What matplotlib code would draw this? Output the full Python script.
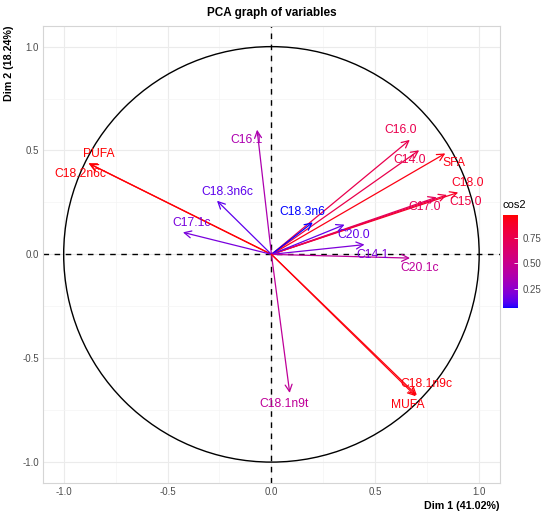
import matplotlib
matplotlib.use("Agg")
import matplotlib.pyplot as plt
import numpy as np
from matplotlib.colors import ListedColormap, Normalize
from matplotlib.patches import Circle

plt.rcParams['font.family'] = ['Liberation Sans', 'DejaVu Sans']
plt.rcParams['axes.unicode_minus'] = False

# PCA variable coordinates (Dim 1, Dim 2)
names = ['PUFA', 'C18.2n6c', 'C16.1', 'C18.3n6c', 'C17.1c', 'C16.0', 'C14.0',
         'SFA', 'C18.0', 'C15.0', 'C17.0', 'C18.3n6', 'C20.0', 'C14.1',
         'C20.1c', 'C18.1n9t', 'C18.1n9c', 'MUFA']
dim1 = [-0.881, -0.875, -0.069, -0.262, -0.426, 0.666, 0.711,
        0.837, 0.899, 0.845, 0.795, 0.199, 0.352, 0.448,
        0.667, 0.088, 0.700, 0.695]
dim2 = [0.439, 0.435, 0.600, 0.258, 0.106, 0.551, 0.501,
        0.486, 0.298, 0.286, 0.275, 0.154, 0.143, 0.047,
        -0.018, -0.667, -0.678, -0.683]
dim1_pct = 41.02
dim2_pct = 18.24
cbar_ticks = [0.25, 0.50, 0.75]

# label offsets from arrow tip, in pixels (repel-like placement)
label_off = {
    'PUFA': (10, 9), 'C18.2n6c': (-9, -10), 'C16.1': (-11, -10),
    'C18.3n6c': (10, 9), 'C17.1c': (9, 9), 'C16.0': (-9, 10),
    'C14.0': (-10, -10), 'SFA': (9, -10), 'C18.0': (9, 9),
    'C15.0': (19, -7), 'C17.0': (-12, -10), 'C18.3n6': (-10, 10),
    'C20.0': (9, -10), 'C14.1': (8, -10), 'C20.1c': (10, -10),
    'C18.1n9t': (-6, -11), 'C18.1n9c': (10, 11), 'MUFA': (-8, -9),
}

x = np.array(dim1)
y = np.array(dim2)
cos2 = x ** 2 + y ** 2


# blue -> red gradient interpolated in Lab space (like ggplot)
def srgb_to_lab(c):
    c = np.asarray(c, float)
    lin = np.where(c <= 0.04045, c / 12.92, ((c + 0.055) / 1.055) ** 2.4)
    M = np.array([[0.4124, 0.3576, 0.1805],
                  [0.2126, 0.7152, 0.0722],
                  [0.0193, 0.1192, 0.9505]])
    xyz = M @ lin / np.array([0.95047, 1.0, 1.08883])
    f = np.where(xyz > 0.008856, np.cbrt(xyz), 7.787 * xyz + 16 / 116)
    return np.array([116 * f[1] - 16, 500 * (f[0] - f[1]), 200 * (f[1] - f[2])])


def lab_to_srgb(lab):
    L, a, b = lab
    fy = (L + 16) / 116
    fx = fy + a / 500
    fz = fy - b / 200
    f = np.array([fx, fy, fz])
    xyz = np.where(f ** 3 > 0.008856, f ** 3, (f - 16 / 116) / 7.787)
    xyz = xyz * np.array([0.95047, 1.0, 1.08883])
    Minv = np.array([[3.2406, -1.5372, -0.4986],
                     [-0.9689, 1.8758, 0.0415],
                     [0.0557, -0.2040, 1.0570]])
    lin = Minv @ xyz
    c = np.where(lin <= 0.0031308, 12.92 * lin, 1.055 * np.clip(lin, 0, None) ** (1 / 2.4) - 0.055)
    return np.clip(c, 0, 1)


lab_lo = srgb_to_lab([0, 0, 1])
lab_hi = srgb_to_lab([1, 0, 0])
cols = [lab_to_srgb(lab_lo + t * (lab_hi - lab_lo)) for t in np.linspace(0, 1, 256)]
cmap = ListedColormap(cols)
norm = Normalize(vmin=cos2.min(), vmax=cos2.max())

fig = plt.figure(figsize=(5.5, 5.17), dpi=100)
ax = fig.add_axes([0.078, 0.066, 0.831, 0.884])

ax.set_xlim(-1.1, 1.1)
ax.set_ylim(-1.1, 1.1)
major = [-1.0, -0.5, 0.0, 0.5, 1.0]
ax.set_xticks(major)
ax.set_yticks(major)
ax.set_xticks([-0.75, -0.25, 0.25, 0.75], minor=True)
ax.set_yticks([-0.75, -0.25, 0.25, 0.75], minor=True)
ax.grid(which='major', color='#EBEBEB', lw=0.8)
ax.grid(which='minor', color='#F4F4F4', lw=0.5)
ax.set_axisbelow(True)
ax.tick_params(which='both', length=0, labelsize=7, labelcolor='#4D4D4D', pad=3)
for s in ax.spines.values():
    s.set_color('#D5D5D5')
    s.set_linewidth(0.8)

ax.add_patch(Circle((0, 0), 1, fill=False, ec='black', lw=1.0, zorder=2))
ax.axhline(0, color='black', ls=(0, (4, 4)), lw=1.0, zorder=2)
ax.axvline(0, color='black', ls=(0, (4, 4)), lw=1.0, zorder=2)

for n, xi, yi, c2 in zip(names, x, y, cos2):
    col = cmap(norm(c2))
    ax.annotate('', xy=(xi, yi), xytext=(0, 0),
                arrowprops=dict(arrowstyle='->,head_length=0.5,head_width=0.25',
                                color=col, lw=0.9, shrinkA=0, shrinkB=0), zorder=3)
    dx, dy = label_off[n]
    ax.annotate(n, xy=(xi, yi), xytext=(dx, dy), textcoords='offset pixels',
                ha='center', va='center', color=col, fontsize=8.7, zorder=4)

ax.set_title('PCA graph of variables', fontsize=8.5, fontweight='bold', pad=7)
ax.set_xlabel('Dim 1 (%.2f%%)' % dim1_pct, fontsize=7.7, fontweight='bold',
              loc='right', labelpad=3)
ax.set_ylabel('Dim 2 (%.2f%%)' % dim2_pct, fontsize=7.7, fontweight='bold',
              loc='top', labelpad=6)

cax = fig.add_axes([0.9145, 0.404, 0.028, 0.18])
sm = matplotlib.cm.ScalarMappable(norm=norm, cmap=cmap)
cb = fig.colorbar(sm, cax=cax, ticks=cbar_ticks)
cb.outline.set_visible(False)
cb.ax.set_yticklabels(['%.2f' % t for t in cbar_ticks])
cb.ax.tick_params(length=3, color='white', width=0.6, direction='in',
                  labelsize=7, labelcolor='#4D4D4D', pad=3)
cb.ax.set_title('cos2', fontsize=8, loc='left', pad=5)

fig.savefig('out.png', dpi=100)
